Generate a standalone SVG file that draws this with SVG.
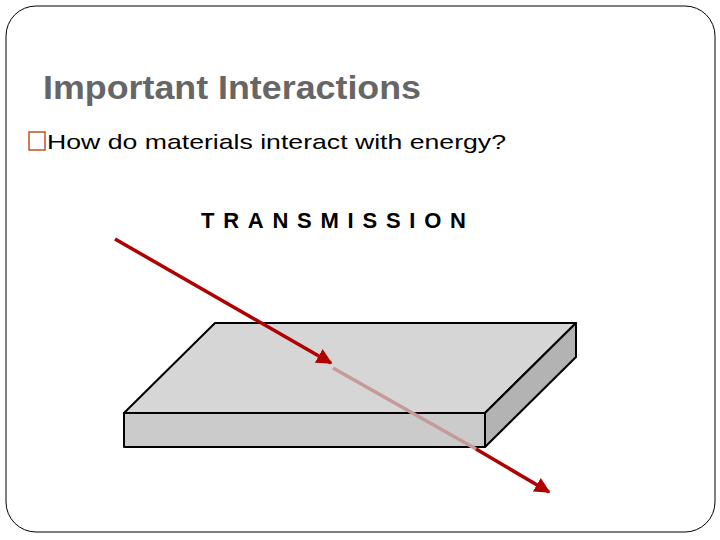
<svg xmlns="http://www.w3.org/2000/svg" width="720" height="540" viewBox="0 0 720 540">
<style>
.t{font-family:"Liberation Sans",Arial,sans-serif}
.edge{stroke:#000;stroke-width:2;stroke-linejoin:round}
</style>
<defs>
<marker id="ah" viewBox="0 0 10 10" refX="9" refY="5" markerWidth="4.5" markerHeight="4.5" orient="auto" markerUnits="strokeWidth"><path d="M0,0 L10,5 L0,10 Z" fill="#b00000"/></marker>
</defs>
<rect width="720" height="540" fill="#fff"/>
<rect x="6" y="6" width="709" height="526" rx="30" fill="none" stroke="#000" stroke-width="1"/>
<text class="t" x="43" y="99" font-size="34" font-weight="bold" fill="#666" textLength="378" lengthAdjust="spacingAndGlyphs">Important Interactions</text>
<rect x="29" y="132" width="16" height="18" fill="none" stroke="#c0521f" stroke-width="1.5"/>
<text class="t" x="47" y="149" font-size="21" fill="#000" textLength="459" lengthAdjust="spacingAndGlyphs">How do materials interact with energy?</text>
<text class="t" x="201" y="228" font-size="22" font-weight="bold" fill="#000" textLength="265" lengthAdjust="spacing">TRANSMISSION</text>
<g id="slab">
<polygon class="edge" points="124,413 215,323 576,323 485,413" fill="#d6d6d6"/>
<rect class="edge" x="124" y="413" width="361" height="34" fill="#cbcbcb"/>
<polygon class="edge" points="485,413 576,323 576,357 485,447" fill="#b3b3b3"/>
</g>
<g id="connectors">
<line x1="115" y1="239" x2="331" y2="363" stroke="#b00000" stroke-width="3.5" marker-end="url(#ah)"/>
<line x1="333" y1="368" x2="476" y2="449" stroke="#c49a9a" stroke-width="3.5"/>
<line x1="476" y1="449" x2="549" y2="492" stroke="#b00000" stroke-width="3.5" marker-end="url(#ah)"/>
</g>
</svg>
